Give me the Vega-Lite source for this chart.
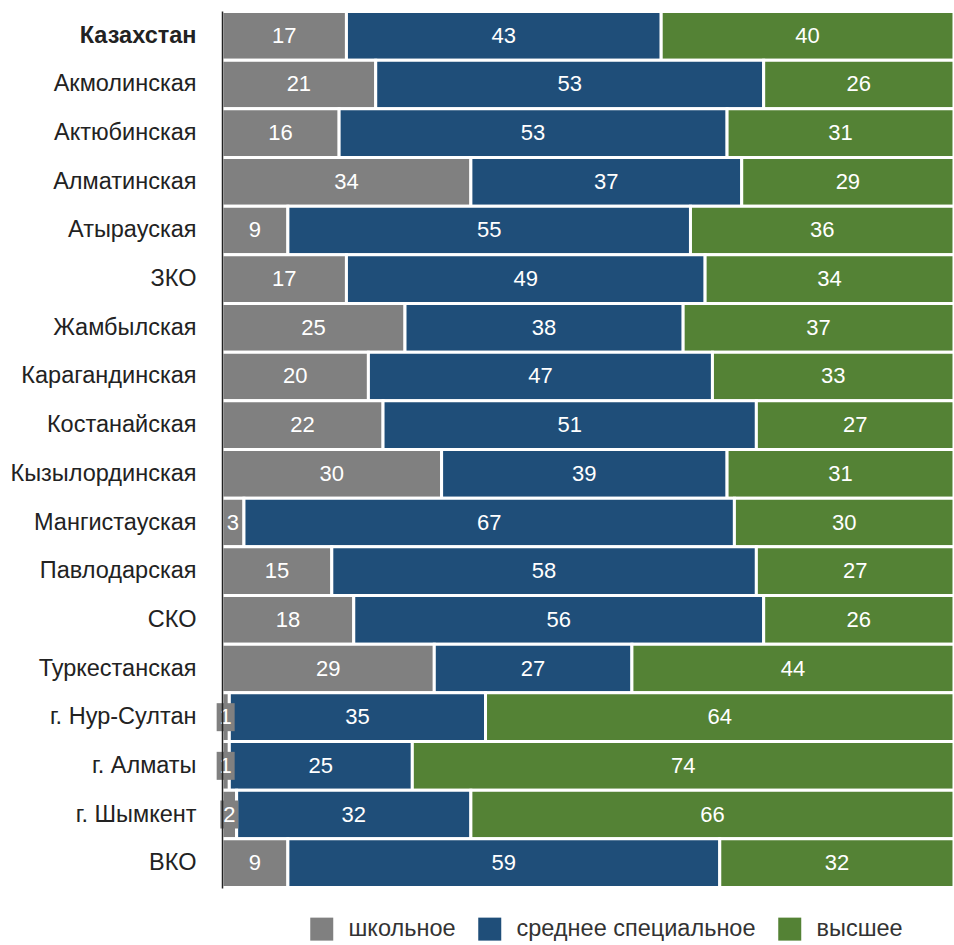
{
  "$schema": "https://vega.github.io/schema/vega-lite/v6.json",
  "autosize": "none",
  "width": 732,
  "height": 877,
  "padding": {"left": 222, "top": 11, "right": 0, "bottom": 57},
  "background": "white",
  "config": {
    "view": {"stroke": null},
    "font": "Liberation Sans"
  },
  "data": {
    "values": [
      {"region": "Казахстан", "школьное": 17, "среднее специальное": 43, "высшее": 40},
      {"region": "Акмолинская", "школьное": 21, "среднее специальное": 53, "высшее": 26},
      {"region": "Актюбинская", "школьное": 16, "среднее специальное": 53, "высшее": 31},
      {"region": "Алматинская", "школьное": 34, "среднее специальное": 37, "высшее": 29},
      {"region": "Атырауская", "школьное": 9, "среднее специальное": 55, "высшее": 36},
      {"region": "ЗКО", "школьное": 17, "среднее специальное": 49, "высшее": 34},
      {"region": "Жамбылская", "школьное": 25, "среднее специальное": 38, "высшее": 37},
      {"region": "Карагандинская", "школьное": 20, "среднее специальное": 47, "высшее": 33},
      {"region": "Костанайская", "школьное": 22, "среднее специальное": 51, "высшее": 27},
      {"region": "Кызылординская", "школьное": 30, "среднее специальное": 39, "высшее": 31},
      {"region": "Мангистауская", "школьное": 3, "среднее специальное": 67, "высшее": 30},
      {"region": "Павлодарская", "школьное": 15, "среднее специальное": 58, "высшее": 27},
      {"region": "СКО", "школьное": 18, "среднее специальное": 56, "высшее": 26},
      {"region": "Туркестанская", "школьное": 29, "среднее специальное": 27, "высшее": 44},
      {"region": "г. Нур-Султан", "школьное": 1, "среднее специальное": 35, "высшее": 64},
      {"region": "г. Алматы", "школьное": 1, "среднее специальное": 25, "высшее": 74},
      {"region": "г. Шымкент", "школьное": 2, "среднее специальное": 32, "высшее": 66},
      {"region": "ВКО", "школьное": 9, "среднее специальное": 59, "высшее": 32}
    ]
  },
  "transform": [
    {"fold": ["школьное", "среднее специальное", "высшее"], "as": ["level", "value"]},
    {"calculate": "indexof(['школьное', 'среднее специальное', 'высшее'], datum.level)", "as": "ord"},
    {"stack": "value", "groupby": ["region"], "sort": [{"field": "ord", "order": "ascending"}], "as": ["x0", "x1"]},
    {"calculate": "(datum.x0 + datum.x1) / 2", "as": "mid"}
  ],
  "encoding": {
    "y": {
      "field": "region",
      "type": "nominal",
      "sort": null,
      "scale": {"paddingInner": 0, "paddingOuter": 0.01},
      "axis": {
        "title": null,
        "ticks": false,
        "labelFontSize": 23.5,
        "labelColor": "#222222",
        "labelPadding": 26,
        "labelLimit": 400,
        "labelFontWeight": {"condition": {"test": "datum.value == 'Казахстан'", "value": "bold"}, "value": "normal"},
        "domainColor": "#222222",
        "domainWidth": 1.5,
        "zindex": 1
      }
    }
  },
  "layer": [
    {
      "mark": {"type": "bar", "stroke": "white", "strokeWidth": 3},
      "encoding": {
        "x": {"field": "x0", "type": "quantitative", "scale": {"domain": [0, 100]}, "axis": null},
        "x2": {"field": "x1"},
        "color": {
          "field": "level",
          "type": "nominal",
          "sort": ["школьное", "среднее специальное", "высшее"],
          "scale": {"domain": ["школьное", "среднее специальное", "высшее"], "range": ["#808080", "#1f4e79", "#548235"]},
          "legend": {
            "title": null,
            "orient": "none",
            "direction": "horizontal",
            "legendX": 88,
            "legendY": 906,
            "symbolType": "square",
            "symbolSize": 529,
            "symbolStrokeWidth": 0,
            "labelFontSize": 23.5,
            "labelColor": "#333333",
            "labelOffset": 15,
            "labelLimit": 400,
            "columnPadding": 22
          }
        }
      }
    },
    {
      "transform": [{"filter": "datum.value <= 2"}],
      "mark": {"type": "tick", "orient": "vertical", "color": "#808080", "thickness": 18, "size": 28, "opacity": 1},
      "encoding": {
        "x": {"field": "mid", "type": "quantitative"}
      }
    },
    {
      "mark": {"type": "text", "color": "white", "fontSize": 22, "baseline": "middle", "align": "center"},
      "encoding": {
        "x": {"field": "mid", "type": "quantitative"},
        "text": {"field": "value", "type": "quantitative"}
      }
    }
  ]
}
